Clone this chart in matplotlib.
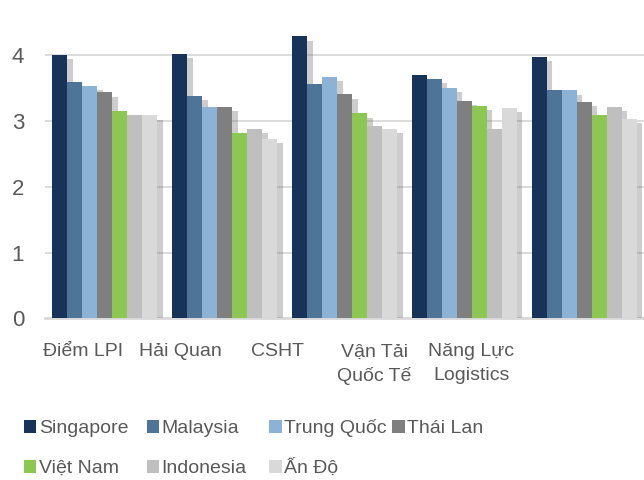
import numpy as np
import matplotlib
matplotlib.use('Agg')
import matplotlib.pyplot as plt
import matplotlib.patheffects as pe
from matplotlib.patches import Patch

plt.rcParams['font.family'] = ['Liberation Sans', 'DejaVu Sans']

categories = ['Điểm LPI', 'Hải Quan', 'CSHT', 'Vận Tải\nQuốc Tế', 'Năng Lực\nLogistics']
countries = ['Singapore', 'Malaysia', 'Trung Quốc', 'Thái Lan', 'Việt Nam', 'Indonesia', 'Ấn Độ']

singapore = [4.00, 4.01, 4.28, 3.70, 3.97]
malaysia = [3.59, 3.37, 3.56, 3.64, 3.47]
trung_quoc = [3.53, 3.21, 3.67, 3.50, 3.46]
thai_lan = [3.43, 3.21, 3.40, 3.30, 3.29]
viet_nam = [3.15, 2.81, 3.11, 3.22, 3.09]
indonesia = [3.08, 2.87, 2.92, 2.87, 3.21]
an_do = [3.08, 2.72, 2.88, 3.20, 3.03]

series = [singapore, malaysia, trung_quoc, thai_lan, viet_nam, indonesia, an_do]
colors = ['#17335A', '#4E7598', '#8CB3D5', '#7F7F7F', '#8CC751', '#BFBFBF', '#D9D9D9']

text_color = '#595959'

fig = plt.figure(figsize=(6.44, 4.80), dpi=100)
ax = fig.add_axes([0.0699, 0.3365, 0.9301, 0.618])

x = np.arange(len(categories))
width = 0.876 / len(series)
shadow = [pe.SimplePatchShadow(offset=(4, -3), shadow_rgbFace='#707070', alpha=0.35), pe.Normal()]

for i, vals in enumerate(series):
    bars = ax.bar(x - 0.438 + width * (i + 0.5), vals, width, color=colors[i], zorder=3)
    for b in bars:
        b.set_path_effects(shadow)

ax.set_xlim(-0.5, 4.5)
ax.set_ylim(0, 4.5)
ax.set_yticks([0, 1, 2, 3, 4])
ax.yaxis.grid(True, color='#D9D9D9', linewidth=1.3, zorder=0)
ax.set_axisbelow(True)
for s in ['top', 'right', 'left']:
    ax.spines[s].set_visible(False)
ax.spines['bottom'].set_color('#D9D9D9')
ax.spines['bottom'].set_linewidth(2)
ax.spines['bottom'].set_zorder(2)

ax.tick_params(axis='y', length=0, pad=15, labelsize=16, labelcolor=text_color)
ax.tick_params(axis='x', length=0, pad=18, labelsize=14, labelcolor=text_color)
ax.set_xticks(np.arange(len(categories)) * 0.81 - 0.18)
ax.set_xticklabels(categories, linespacing=1.5, va='top')

# legend like Excel: equal-width columns, filled row by row -> one small legend per entry
ncols = 4
for k, name in enumerate(countries):
    row, col = divmod(k, ncols)
    fig.legend([Patch(facecolor=colors[k], edgecolor='none')], [name],
               loc='lower left', bbox_to_anchor=(0.037 + col * 0.1905, 0.006 + (1 - row) * 40 / 480),
               frameon=False, fontsize=14, labelcolor=text_color,
               handlelength=0.65, handleheight=0.65, handletextpad=0.12,
               borderaxespad=0, borderpad=0)

fig.savefig('out.png', dpi=100)
